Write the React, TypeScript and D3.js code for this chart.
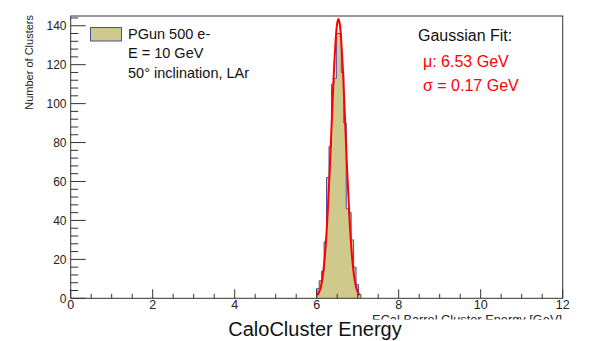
import React, { useRef, useEffect } from 'react';
import * as d3 from 'd3';

const W = 593;
const H = 341;

// histogram, 0.06 GeV bins from 6.00 GeV
const binStart = 6.0;
const binWidth = 0.06;
const binCounts = [5, 9, 14, 29, 62, 78, 110, 113, 136, 136, 116, 90, 46, 44, 30, 16, 7, 2];

// gaussian fit curve
const fitX = [6.02, 6.08, 6.14, 6.2, 6.26, 6.32, 6.38, 6.44, 6.5, 6.53, 6.56, 6.62, 6.68, 6.74, 6.8, 6.86, 6.92, 6.98, 7.04];
const fitY = [1.6, 4.3, 10.3, 21.8, 40.7, 66.9, 97.3, 124.7, 141.3, 143.5, 141.3, 124.7, 97.3, 66.9, 40.7, 21.8, 10.3, 4.3, 1.6];

const xTicks = [0, 2, 4, 6, 8, 10, 12];
const yTicks = [0, 20, 40, 60, 80, 100, 120, 140];
const legendLines = ['PGun 500 e-', 'E = 10 GeV', '50° inclination, LAr'];
const fitTitle = 'Gaussian Fit:';
const fitLines = ['μ: 6.53 GeV', 'σ = 0.17 GeV'];
const xTitle = 'ECal Barrel Cluster Energy [GeV]';
const yTitle = 'Number of Clusters';
const mainTitle = 'CaloCluster Energy';

const FONT = '"Liberation Sans", Arial, Helvetica, sans-serif';

const App = () => {
  const svgRef = useRef<SVGSVGElement>(null);

  useEffect(() => {
    document.body.style.margin = '0';
    const svg = d3.select(svgRef.current);
    svg.selectAll('*').remove();

    const x = d3.scaleLinear().domain([0, 12]).range([70.7, 562.7]);
    const y = d3.scaleLinear().domain([0, 145]).range([298.3, 16]);
    const [x0, x1] = x.range();
    const [y0, y1] = y.range();

    svg.append('rect').attr('width', W).attr('height', H).attr('fill', '#fff');

    // histogram outline
    const pts: [number, number][] = [[binStart, 0]];
    binCounts.forEach((c, i) => {
      const lo = binStart + i * binWidth;
      pts.push([lo, c], [lo + binWidth, c]);
    });
    pts.push([binStart + binCounts.length * binWidth, 0]);
    const step = d3.line<[number, number]>().x(d => x(d[0])).y(d => y(d[1]));
    svg.append('path')
      .attr('d', step(pts))
      .attr('fill', '#cfca8c')
      .attr('stroke', '#4b4bab')
      .attr('stroke-width', 1);

    // fit
    const fitLine = d3.line<number>()
      .x((_, i) => x(fitX[i]))
      .y(d => y(d))
      .curve(d3.curveCatmullRom);
    svg.append('path')
      .attr('d', fitLine(fitY))
      .attr('fill', 'none')
      .attr('stroke', '#ff0000')
      .attr('stroke-width', 2);

    // frame
    svg.append('rect')
      .attr('x', x0).attr('y', y1)
      .attr('width', x1 - x0).attr('height', y0 - y1)
      .attr('fill', 'none').attr('stroke', '#333').attr('stroke-width', 1);

    const axisG = svg.append('g').attr('stroke', '#333').attr('stroke-width', 1);
    // x ticks
    d3.range(0, 12.001, 0.5).forEach(v => {
      const major = Math.abs(v / 2 - Math.round(v / 2)) < 1e-6;
      axisG.append('line')
        .attr('x1', x(v)).attr('x2', x(v))
        .attr('y1', y0).attr('y2', y0 - (major ? 9 : 4.5));
    });
    // y ticks
    d3.range(0, 145, 4).forEach(v => {
      const major = v % 20 === 0;
      axisG.append('line')
        .attr('x1', x0).attr('x2', x0 + (major ? 15 : 7.5))
        .attr('y1', y(v)).attr('y2', y(v));
    });

    const txt = svg.append('g').attr('font-family', FONT);

    txt.selectAll('.xl').data(xTicks).enter().append('text')
      .attr('x', d => x(d)).attr('y', 308.5)
      .attr('text-anchor', 'middle').attr('font-size', 12.5).attr('fill', '#222')
      .text(d => d);
    txt.selectAll('.yl').data(yTicks).enter().append('text')
      .attr('x', 66.5).attr('y', d => y(d) + 4.3)
      .attr('text-anchor', 'end').attr('font-size', 12).attr('fill', '#222')
      .text(d => d);

    // y title
    txt.append('text')
      .attr('transform', 'translate(33,15) rotate(-90)')
      .attr('text-anchor', 'end').attr('font-size', 11).attr('fill', '#222')
      .text(yTitle);

    // x title, clipped at the bottom as in the original
    svg.append('clipPath').attr('id', 'xclip')
      .append('rect').attr('x', 0).attr('y', 0).attr('width', W).attr('height', 319.5);
    txt.append('text')
      .attr('clip-path', 'url(#xclip)')
      .attr('x', 562).attr('y', 323.5)
      .attr('text-anchor', 'end').attr('font-size', 12.8).attr('fill', '#222')
      .text(xTitle);

    txt.append('text')
      .attr('x', 315).attr('y', 336)
      .attr('text-anchor', 'middle').attr('font-size', 20).attr('fill', '#111')
      .text(mainTitle);

    // legend
    svg.append('rect')
      .attr('x', 90.5).attr('y', 27.5).attr('width', 31).attr('height', 13.5)
      .attr('fill', '#cfca8c').attr('stroke', '#4b4bab').attr('stroke-width', 1);
    legendLines.forEach((t, i) => {
      txt.append('text')
        .attr('x', 128).attr('y', 38.5 + i * 19.5)
        .attr('font-size', 14.5).attr('fill', '#111')
        .text(t);
    });

    // fit info
    txt.append('text')
      .attr('x', 418).attr('y', 41)
      .attr('font-size', 16).attr('fill', '#111')
      .text(fitTitle);
    fitLines.forEach((t, i) => {
      txt.append('text')
        .attr('x', 423).attr('y', 67 + i * 24)
        .attr('font-size', 16).attr('fill', '#ff0000')
        .text(t);
    });
  }, []);

  return <svg ref={svgRef} width={W} height={H} style={{ display: 'block' }} />;
};

export default App;
